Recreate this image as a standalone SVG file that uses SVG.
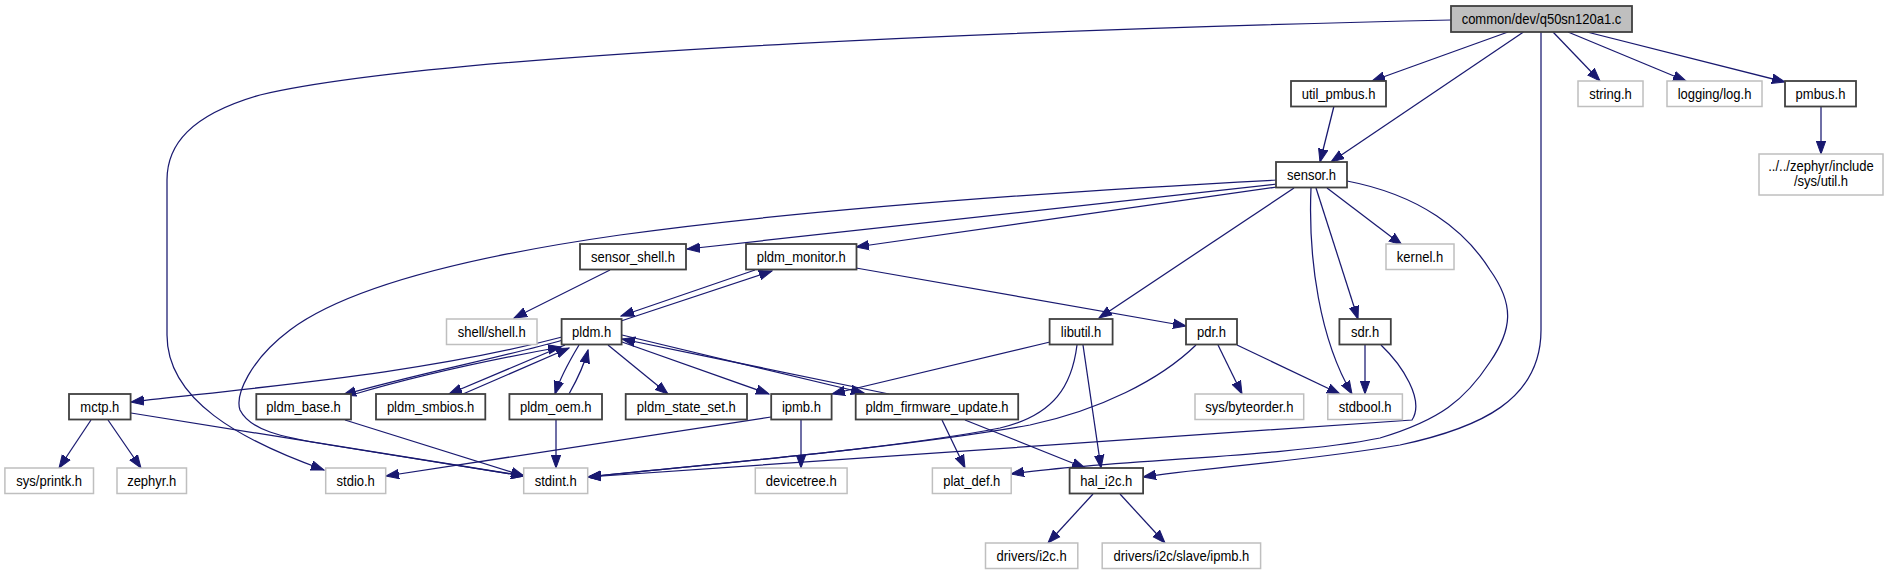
<svg xmlns="http://www.w3.org/2000/svg" width="1889" height="575" viewBox="0 0 1889 575">
<style>
.n rect{fill:#fff;stroke:#404040;stroke-width:1.8}
.g rect{fill:#fff;stroke:#bfbfbf;stroke-width:1.5}
.m rect{fill:#bfbfbf;stroke:#404040;stroke-width:1.8}
text{font-family:"Liberation Sans",Arial,sans-serif;font-size:14px;fill:#000;text-anchor:middle}
#edges path{fill:none;stroke:#191970;stroke-width:1.25;marker-end:url(#a)}
</style>
<defs>
<marker id="a" markerWidth="14" markerHeight="11" refX="13" refY="5.5" orient="auto" markerUnits="userSpaceOnUse">
<path d="M0,0.8 L13,5.5 L0,10.2 z" fill="#191970" stroke="#191970" stroke-width="1"/>
</marker>
</defs>
<rect width="1889" height="575" fill="#fff"/>
<g id="edges">
<path d="M1508,32 L1372,81"/>
<path d="M1523.5,32 L1331,162"/>
<path d="M1553,32 L1600,81"/>
<path d="M1568,32 L1686,81"/>
<path d="M1587,32 L1785,82"/>
<path d="M1451,20 C1100,28 450,50 260,95 C190,115 167,145 167,180 L167,335 C167,400 240,440 324,470"/>
<path d="M1541,32 L1541,330 C1541,400 1480,428 1400,445 C1300,462 1200,468 1143,477"/>
<path d="M1347,181 C1420,195 1465,230 1490,270 C1515,305 1512,330 1490,362 C1465,400 1440,420 1380,438 C1280,458 1100,460 1011,474"/>
<path d="M1334,106 L1320,162"/>
<path d="M1821,106.5 L1821,154"/>
<path d="M1277,184 L687,249"/>
<path d="M1277,187 L856,247"/>
<path d="M1294,188 L1099,318"/>
<path d="M1277,180 C1050,192 800,210 620,235 C480,255 350,285 290,330 C250,360 235,395 240,410 C250,430 280,437 330,445 L524,476"/>
<path d="M1327,188 L1402,245"/>
<path d="M1316,188 L1358,319"/>
<path d="M1311,188 C1308,260 1320,340 1352,394"/>
<path d="M856,268 L1186,326"/>
<path d="M621,321 L772,271"/>
<path d="M755,270 L621,316"/>
<path d="M610,270 L514,318"/>
<path d="M562,337 C430,372 280,385 131,402"/>
<path d="M563,340 C500,358 420,373 343,395"/>
<path d="M355,394 C430,372 500,358 561,347"/>
<path d="M565,345 L449,394"/>
<path d="M463,394 L569,348"/>
<path d="M579,345 C570,360 560,378 555,394"/>
<path d="M569,394 C578,378 585,362 588,350"/>
<path d="M608,345 L668,394"/>
<path d="M622,342 L769,394"/>
<path d="M622,335 L864,393"/>
<path d="M889,394 L622,339"/>
<path d="M1050,342 L832,394"/>
<path d="M1083,345 L1101,468"/>
<path d="M1077,345 C1072,385 1055,415 1000,428 C900,448 700,465 588,477"/>
<path d="M1196,345 C1160,380 1100,410 1030,425 C900,448 700,465 588,477"/>
<path d="M1218,345 L1242,394"/>
<path d="M1237,345 L1340,394"/>
<path d="M1365,345 L1365,394"/>
<path d="M1381,345 C1402,365 1425,400 1412,420 L588,477"/>
<path d="M801,420 L801,468"/>
<path d="M771,417 L386,476"/>
<path d="M942,420 L965,468"/>
<path d="M965,420 L1085,468"/>
<path d="M1093,494 L1048,543"/>
<path d="M1120,494 L1165,543"/>
<path d="M91,420 L59,468"/>
<path d="M108,420 L141,468"/>
<path d="M131,413 L524,476"/>
<path d="M345,420 L524,476"/>
<path d="M556,420 L556,468"/>
</g>
<g id="main" class="m"><rect x="1451" y="6" width="181" height="26"/><text transform="translate(1541.5,23.5) scale(0.93,1)">common/dev/q50sn120a1.c</text></g>
<g id="util_pmbus" class="n"><rect x="1291" y="81" width="95" height="25.5"/><text transform="translate(1338.5,98.5) scale(0.93,1)">util_pmbus.h</text></g>
<g id="string" class="g"><rect x="1578" y="81" width="65" height="25.5"/><text transform="translate(1610.5,98.5) scale(0.93,1)">string.h</text></g>
<g id="logging" class="g"><rect x="1667" y="81" width="95" height="25.5"/><text transform="translate(1714.5,98.5) scale(0.93,1)">logging/log.h</text></g>
<g id="pmbus" class="n"><rect x="1785" y="81" width="71" height="25.5"/><text transform="translate(1820.5,98.5) scale(0.93,1)">pmbus.h</text></g>
<g id="zutil" class="g"><rect x="1759" y="154" width="124" height="41"/><text transform="translate(1821,170.5) scale(0.93,1)">../../zephyr/include</text><text transform="translate(1821,185.5) scale(0.93,1)">/sys/util.h</text></g>
<g id="sensor" class="n"><rect x="1276" y="162" width="71" height="25.5"/><text transform="translate(1311.5,179.5) scale(0.93,1)">sensor.h</text></g>
<g id="sensor_shell" class="n"><rect x="580" y="244" width="106" height="25.5"/><text transform="translate(633,261.5) scale(0.93,1)">sensor_shell.h</text></g>
<g id="pldm_monitor" class="n"><rect x="746" y="244" width="110.5" height="25.5"/><text transform="translate(801.2,261.5) scale(0.93,1)">pldm_monitor.h</text></g>
<g id="kernel" class="g"><rect x="1386" y="244" width="68" height="25.5"/><text transform="translate(1420,261.5) scale(0.93,1)">kernel.h</text></g>
<g id="shell" class="g"><rect x="446.5" y="319" width="90.5" height="25.5"/><text transform="translate(491.7,336.5) scale(0.93,1)">shell/shell.h</text></g>
<g id="pldm" class="n"><rect x="561.6" y="319" width="60" height="25.5"/><text transform="translate(591.6,336.5) scale(0.93,1)">pldm.h</text></g>
<g id="libutil" class="n"><rect x="1049.6" y="319" width="63" height="25.5"/><text transform="translate(1081.1,336.5) scale(0.93,1)">libutil.h</text></g>
<g id="pdr" class="n"><rect x="1186" y="319" width="51" height="25.5"/><text transform="translate(1211.5,336.5) scale(0.93,1)">pdr.h</text></g>
<g id="sdr" class="n"><rect x="1339.4" y="319" width="51.4" height="25.5"/><text transform="translate(1365.1,336.5) scale(0.93,1)">sdr.h</text></g>
<g id="mctp" class="n"><rect x="69" y="394" width="61.6" height="25.5"/><text transform="translate(99.8,411.5) scale(0.93,1)">mctp.h</text></g>
<g id="pldm_base" class="n"><rect x="256.3" y="394" width="94.7" height="25.5"/><text transform="translate(303.6,411.5) scale(0.93,1)">pldm_base.h</text></g>
<g id="pldm_smbios" class="n"><rect x="376" y="394" width="109.3" height="25.5"/><text transform="translate(430.6,411.5) scale(0.93,1)">pldm_smbios.h</text></g>
<g id="pldm_oem" class="n"><rect x="509.4" y="394" width="92.6" height="25.5"/><text transform="translate(555.7,411.5) scale(0.93,1)">pldm_oem.h</text></g>
<g id="pldm_state_set" class="n"><rect x="625.7" y="394" width="121.3" height="25.5"/><text transform="translate(686.3,411.5) scale(0.93,1)">pldm_state_set.h</text></g>
<g id="ipmb" class="n"><rect x="771.2" y="394" width="60.4" height="25.5"/><text transform="translate(801.4,411.5) scale(0.93,1)">ipmb.h</text></g>
<g id="pldm_fw" class="n"><rect x="855.7" y="394" width="162.5" height="25.5"/><text transform="translate(937,411.5) scale(0.93,1)">pldm_firmware_update.h</text></g>
<g id="byteorder" class="g"><rect x="1195" y="394" width="108.7" height="25.5"/><text transform="translate(1249.3,411.5) scale(0.93,1)">sys/byteorder.h</text></g>
<g id="stdbool" class="g"><rect x="1327.8" y="394" width="74.6" height="25.5"/><text transform="translate(1365.1,411.5) scale(0.93,1)">stdbool.h</text></g>
<g id="printk" class="g"><rect x="4.9" y="468" width="88.6" height="25.5"/><text transform="translate(49.2,485.5) scale(0.93,1)">sys/printk.h</text></g>
<g id="zephyr" class="g"><rect x="117" y="468" width="69.5" height="25.5"/><text transform="translate(151.7,485.5) scale(0.93,1)">zephyr.h</text></g>
<g id="stdio" class="g"><rect x="325.7" y="468" width="60" height="25.5"/><text transform="translate(355.7,485.5) scale(0.93,1)">stdio.h</text></g>
<g id="stdint" class="g"><rect x="523.7" y="468" width="64" height="25.5"/><text transform="translate(555.7,485.5) scale(0.93,1)">stdint.h</text></g>
<g id="devicetree" class="g"><rect x="755.3" y="468" width="91.8" height="25.5"/><text transform="translate(801.2,485.5) scale(0.93,1)">devicetree.h</text></g>
<g id="plat_def" class="g"><rect x="932.4" y="468" width="78.8" height="25.5"/><text transform="translate(971.8,485.5) scale(0.93,1)">plat_def.h</text></g>
<g id="hal_i2c" class="n"><rect x="1069.6" y="468" width="73.5" height="25.5"/><text transform="translate(1106.3,485.5) scale(0.93,1)">hal_i2c.h</text></g>
<g id="drv_i2c" class="g"><rect x="985.5" y="543" width="92.3" height="25.5"/><text transform="translate(1031.6,560.5) scale(0.93,1)">drivers/i2c.h</text></g>
<g id="drv_ipmb" class="g"><rect x="1102.2" y="543" width="158.4" height="25.5"/><text transform="translate(1181.4,560.5) scale(0.93,1)">drivers/i2c/slave/ipmb.h</text></g>
</svg>
